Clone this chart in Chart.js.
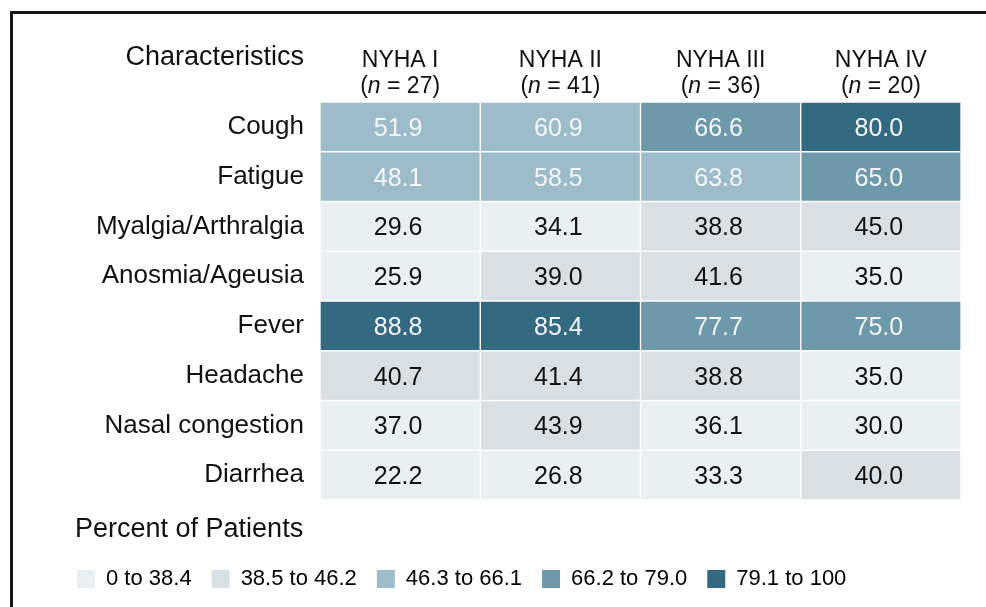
<!DOCTYPE html>
<html>
<head>
<meta charset="utf-8">
<script src="https://cdn.jsdelivr.net/npm/chart.js@4.4.1/dist/chart.umd.min.js"></script>
<style>
  html, body { margin: 0; padding: 0; background: #fff; }
  #wrap { position: relative; width: 986px; height: 607px; overflow: hidden; }
  #chart { display: block; }
  #frame { position: absolute; left: 10px; top: 11px; right: -6px; bottom: -6px; border-left: 3px solid #161616; border-top: 3px solid #161616; pointer-events: none; }
</style>
</head>
<body>
<div id="wrap">
  <canvas id="chart" width="986" height="607"></canvas>
  <div id="frame"></div>
</div>
<script>
const symptoms = ["Cough", "Fatigue", "Myalgia/Arthralgia", "Anosmia/Ageusia", "Fever", "Headache", "Nasal congestion", "Diarrhea"]
const groups = ["NYHA I", "NYHA II", "NYHA III", "NYHA IV"]
const groupSizes = [27, 41, 36, 20]

const nyha1 = [51.9, 48.1, 29.6, 25.9, 88.8, 40.7, 37.0, 22.2]
const nyha2 = [60.9, 58.5, 34.1, 39.0, 85.4, 41.4, 43.9, 26.8]
const nyha3 = [66.6, 63.8, 38.8, 41.6, 77.7, 38.8, 36.1, 33.3]
const nyha4 = [80.0, 65.0, 45.0, 35.0, 75.0, 35.0, 30.0, 40.0]

const binLabels = ["0 to 38.4", "38.5 to 46.2", "46.3 to 66.1", "66.2 to 79.0", "79.1 to 100"]
// lower edges of bins 2..5 (the picture shades 65.0 like the 4th bin)
const binBreaks = [38.5, 46.3, 65.0, 79.1]
const binColors = ["#e9f0f4", "#d8e0e5", "#9dbcca", "#6e99ab", "#346a81"]

const FONT = "'Liberation Sans', Arial, Helvetica, sans-serif"
Chart.defaults.font.family = FONT

function binOf(v) {
  let k = 0
  binBreaks.forEach(b => { if (v >= b) k++ })
  return k
}

const columns = [nyha1, nyha2, nyha3, nyha4]

const datasets = columns.map((vals, j) => ({
  label: groups[j],
  data: vals.map((v, i) => ({ x: [j, j + 1], y: symptoms[i], v })),
  backgroundColor: ctx => binColors[binOf(ctx.raw.v)],
  borderColor: "#ffffff",
  borderWidth: 1,
  borderSkipped: false,
  grouped: false,
  categoryPercentage: 1,
  barPercentage: 1
}))

// values inside the cells
const cellText = {
  id: "cellText",
  afterDatasetsDraw(chart) {
    const { ctx } = chart
    ctx.save()
    ctx.font = "25px " + FONT
    ctx.textAlign = "center"
    ctx.textBaseline = "middle"
    chart.data.datasets.forEach((ds, di) => {
      chart.getDatasetMeta(di).data.forEach((bar, i) => {
        const v = ds.data[i].v
        ctx.fillStyle = binOf(v) >= 2 ? "#f4f7f9" : "#111111"
        ctx.fillText(v.toFixed(1), (bar.x + bar.base) / 2 - 2, bar.y + 2)
      })
    })
    ctx.restore()
  }
}

// column headers, corner title and legend title
const headers = {
  id: "headers",
  afterDraw(chart) {
    const { ctx, chartArea } = chart
    const x = chart.scales.x
    const top = chartArea.top
    ctx.save()
    ctx.fillStyle = "#111111"
    ctx.textBaseline = "alphabetic"

    ctx.font = "27px " + FONT
    ctx.textAlign = "right"
    ctx.fillText("Characteristics", chartArea.left - 16, top - 37)

    groups.forEach((g, j) => {
      const cx = x.getPixelForValue(j + 0.5)
      ctx.font = "23px " + FONT
      ctx.textAlign = "center"
      ctx.fillText(g, cx, top - 35)

      const normal = "23px " + FONT
      const italic = "italic 23px " + FONT
      const parts = [["(", normal], ["n", italic], [" = " + groupSizes[j] + ")", normal]]
      let w = 0
      parts.forEach(p => { ctx.font = p[1]; w += ctx.measureText(p[0]).width })
      let px = cx - w / 2
      ctx.textAlign = "left"
      parts.forEach(p => {
        ctx.font = p[1]
        ctx.fillText(p[0], px, top - 9)
        px += ctx.measureText(p[0]).width
      })
    })

    ctx.font = "27px " + FONT
    ctx.textAlign = "left"
    ctx.fillText("Percent of Patients", 75, 537)
    ctx.restore()
  }
}

new Chart(document.getElementById("chart"), {
  type: "bar",
  data: { labels: symptoms, datasets },
  options: {
    indexAxis: "y",
    responsive: false,
    animation: false,
    layout: { padding: { left: 57, right: 25, top: 102, bottom: 7 } },
    scales: {
      x: {
        type: "linear",
        min: 0,
        max: 4,
        position: "bottom",
        ticks: { display: false },
        grid: { display: false, drawTicks: false },
        border: { display: false },
        afterFit: s => { s.height = 48 }
      },
      y: {
        type: "category",
        labels: symptoms,
        offset: true,
        ticks: { color: "#111111", font: { size: 26 }, padding: 16 },
        grid: { display: false, drawTicks: false },
        border: { display: false },
        afterFit: s => { s.width = 263 }
      }
    },
    plugins: {
      tooltip: { enabled: false },
      legend: {
        position: "bottom",
        align: "start",
        onClick: null,
        labels: {
          boxWidth: 18,
          boxHeight: 18,
          padding: 20,
          color: "#1a1a1a",
          font: { size: 22 },
          generateLabels: () => binLabels.map((t, k) => ({
            text: t,
            fillStyle: binColors[k],
            strokeStyle: binColors[k],
            lineWidth: 0,
            hidden: false
          }))
        }
      }
    }
  },
  plugins: [cellText, headers]
})
</script>
</body>
</html>
